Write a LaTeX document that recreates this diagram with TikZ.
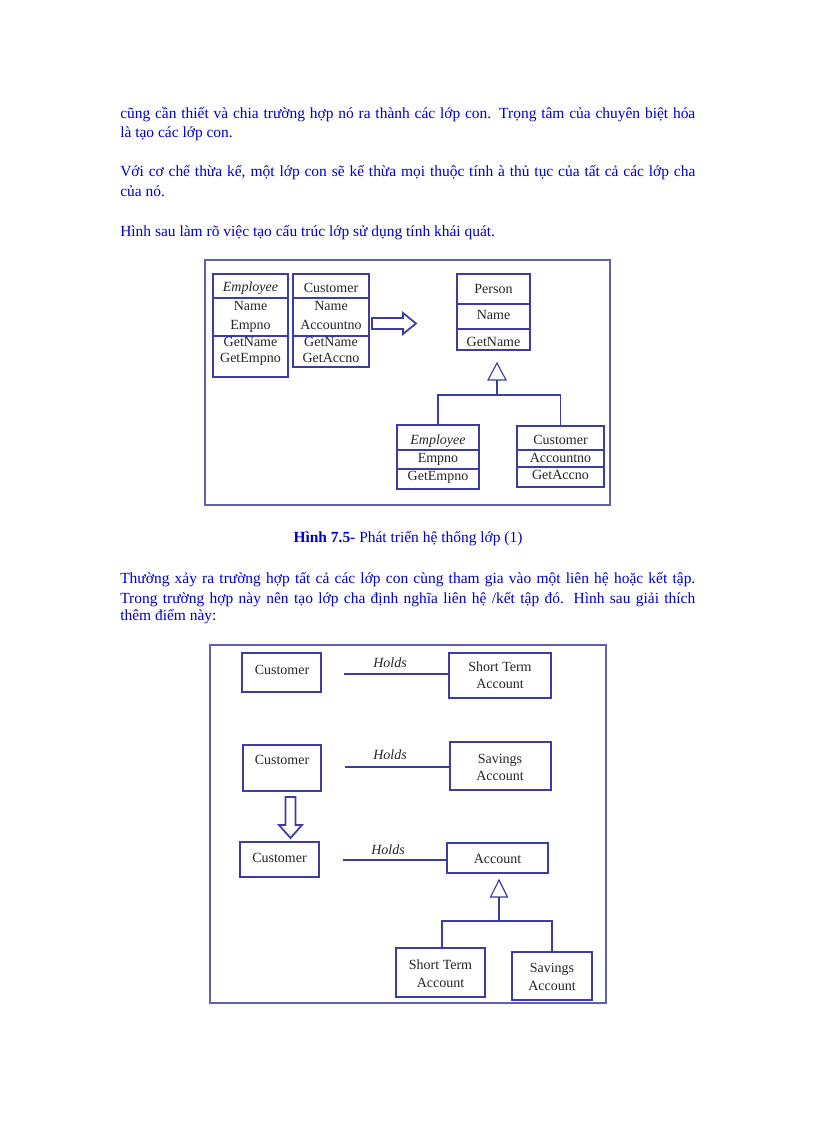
\documentclass[tikz,border=0pt]{standalone}
\usepackage{fontspec}
\setmainfont{Liberation Serif}
\usetikzlibrary{fit}
\definecolor{txtblue}{RGB}{0,0,205}
\definecolor{linec}{RGB}{60,60,165}
\definecolor{framec}{RGB}{95,95,180}
\newcommand\fullline[1]{\hbox to 431.25pt{\spaceskip=0.25em plus 0.5em minus 0.12em #1}}
\begin{document}
\begin{tikzpicture}[x=0.75pt,y=-0.75pt,
  para/.style={anchor=base west,inner sep=0,text=txtblue,font=\fontsize{11.6}{13}\selectfont},
  comp/.style={draw=linec,line width=0.85pt,inner sep=0},
  lbl/.style={anchor=base,inner sep=0,font=\fontsize{10.5}{12}\selectfont,text=black!85},
  ln/.style={draw=linec,line width=0.85pt},
  blockarrow/.style={draw=linec,line width=1.3pt,fill=white,line join=miter},
  framebox/.style={draw=framec,line width=0.9pt,inner sep=0}]
\useasboundingbox[fill=white] (0,0) rectangle (816,1123);

% ---------- text ----------
\node[para] (l1) at (120,119) {\fullline{cũng cần thiết và chia trường hợp nó ra thành các lớp con. Trọng tâm của chuyên biệt hóa}};
\node[para] (l2) at (120,138) {là tạo các lớp con.};
\node[para] (l3) at (120,177) {\fullline{Với cơ chế thừa kế, một lớp con sẽ kế thừa mọi thuộc tính à thủ tục của tất cả các lớp cha}};
\node[para] (l4) at (120,197) {của nó.};
\node[para] (l5) at (120,237) {Hình sau làm rõ việc tạo cấu trúc lớp sử dụng tính khái quát.};
\node[para,anchor=base] (cap) at (408,542) {\textbf{Hình 7.5-} Phát triển hệ thống lớp (1)};
\node[para] (l6) at (120,583) {\fullline{Thường xảy ra trường hợp tất cả các lớp con cùng tham gia vào một liên hệ hoặc kết tập.}};
\node[para] (l7) at (120,603) {\fullline{Trong trường hợp này nên tạo lớp cha định nghĩa liên hệ /kết tập đó. Hình sau giải thích}};
\node[para] (l8) at (120,620) {thêm điểm này:};

% ---------- figure 1 ----------
\node[framebox,fit={(205,260)(610,505)}] (fig1) {};

% Employee (left)
\node[comp,fit={(213,274)(288,298)}] (e1h) {};
\node[comp,fit={(213,298)(288,336)}] (e1a) {};
\node[comp,fit={(213,336)(288,377)}] (e1o) {};
\node[lbl] (e1ht) at (250.5,291) {\textit{Employee}};
\node[lbl] (e1a1) at (250.5,310) {Name};
\node[lbl] (e1a2) at (250.5,329) {Empno};
\node[lbl] (e1o1) at (250.5,346) {GetName};
\node[lbl] (e1o2) at (250.5,362) {GetEmpno};

% Customer (left)
\node[comp,fit={(293,274)(369,298)}] (c1h) {};
\node[comp,fit={(293,298)(369,336)}] (c1a) {};
\node[comp,fit={(293,336)(369,367)}] (c1o) {};
\node[lbl] (c1ht) at (331,292) {Customer};
\node[lbl] (c1a1) at (331,310) {Name};
\node[lbl] (c1a2) at (331,329) {Accountno};
\node[lbl] (c1o1) at (331,346) {GetName};
\node[lbl] (c1o2) at (331,362) {GetAccno};

% block arrow right
\draw[blockarrow] (372,318) -- (403,318) -- (403,313) -- (416,323.5) -- (403,334) -- (403,329) -- (372,329) -- cycle;

% Person
\node[comp,fit={(457,274)(530,304)}] (ph) {};
\node[comp,fit={(457,304)(530,329)}] (pa) {};
\node[comp,fit={(457,329)(530,350)}] (po) {};
\node[lbl] (pht) at (493.5,293) {Person};
\node[lbl] (pa1) at (493.5,319) {Name};
\node[lbl] (po1) at (493.5,346) {GetName};

% Employee (bottom)
\node[comp,fit={(397,425)(479,450)}] (e2h) {};
\node[comp,fit={(397,450)(479,469)}] (e2a) {};
\node[comp,fit={(397,469)(479,489)}] (e2o) {};
\node[lbl] (e2ht) at (438,444) {\textit{Employee}};
\node[lbl] (e2a1) at (438,462.5) {Empno};
\node[lbl] (e2o1) at (438,480) {GetEmpno};

% Customer (bottom)
\node[comp,fit={(517,426)(604,450)}] (c2h) {};
\node[comp,fit={(517,450)(604,467)}] (c2a) {};
\node[comp,fit={(517,467)(604,487)}] (c2o) {};
\node[lbl] (c2ht) at (560.5,444) {Customer};
\node[lbl] (c2a1) at (560.5,462.5) {Accountno};
\node[lbl] (c2o1) at (560.5,479) {GetAccno};

% generalisation
\coordinate (t1) at (497,380);
\coordinate (j1) at (497,395);
\draw[ln,fill=white] (488,380) -- (497,363) -- (506,380) -- cycle;
\draw[ln] (t1) -- (j1);
\draw[ln] (e2h.north) |- (j1) -| (c2h.north);

% ---------- figure 2 ----------
\node[framebox,fit={(210,645)(606,1003)}] (fig2) {};

\node[comp,fit={(242,653)(321,692)}] (cuA) {};
\node[lbl] (cuAt) at (282,674) {Customer};
\node[comp,fit={(449,653)(551,698)}] (sta) {};
\node[lbl] (sta1) at (500,671) {Short Term};
\node[lbl] (sta2) at (500,688) {Account};
\coordinate (h1s) at (344,674);
\draw[ln] (h1s) -- (h1s -| sta.west);
\node[lbl] (h1) at (390,667) {\textit{Holds}};

\node[comp,fit={(243,745)(321,791)}] (cuB) {};
\node[lbl] (cuBt) at (282,764) {Customer};
\node[comp,fit={(450,742)(551,790)}] (sva) {};
\node[lbl] (sva1) at (500,763) {Savings};
\node[lbl] (sva2) at (500,780) {Account};
\coordinate (h2s) at (345,767);
\draw[ln] (h2s) -- (h2s -| sva.west);
\node[lbl] (h2) at (390,759) {\textit{Holds}};

% block arrow down
\draw[blockarrow] (285.5,797) -- (295.5,797) -- (295.5,825) -- (302,825) -- (290.5,838) -- (279,825) -- (285.5,825) -- cycle;

\node[comp,fit={(240,842)(319,877)}] (cuC) {};
\node[lbl] (cuCt) at (279.5,862) {Customer};
\node[comp,fit={(447,843)(548,873)}] (acc) {};
\node[lbl] (acct) at (497.5,863) {Account};
\coordinate (h3s) at (343,860);
\draw[ln] (h3s) -- (h3s -| acc.west);
\node[lbl] (h3) at (388,854) {\textit{Holds}};

\node[comp,fit={(396,948)(485,997)}] (stb) {};
\node[lbl] (stb1) at (440.5,969) {Short Term};
\node[lbl] (stb2) at (440.5,987) {Account};
\node[comp,fit={(512,952)(592,1000)}] (svb) {};
\node[lbl] (svb1) at (552,972) {Savings};
\node[lbl] (svb2) at (552,990) {Account};

\coordinate (t2) at (499,897);
\coordinate (j2) at (499,921);
\coordinate (lg1) at (442,948);
\coordinate (lg2) at (552,952);
\draw[ln,fill=white] (490.5,897) -- (499,880) -- (507.5,897) -- cycle;
\draw[ln] (t2) -- (j2);
\draw[ln] (j2) -| (stb.north -| lg1);
\draw[ln] (j2) -| (svb.north -| lg2);
\end{tikzpicture}
\end{document}
